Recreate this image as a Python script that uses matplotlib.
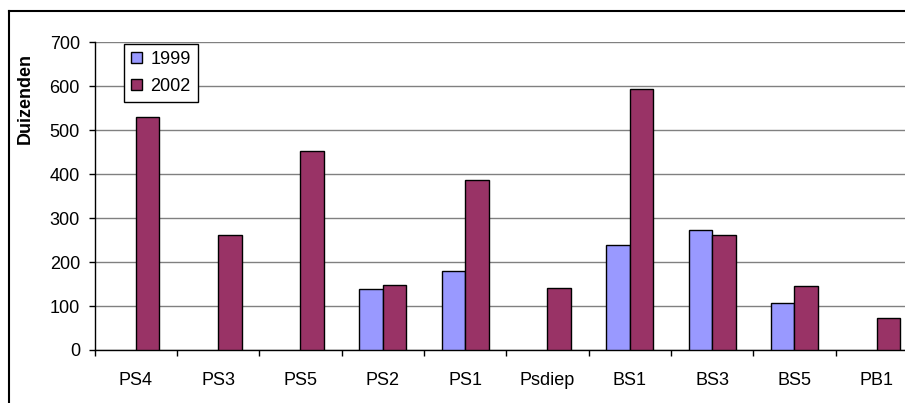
import matplotlib
matplotlib.use("Agg")
import matplotlib.pyplot as plt
import numpy as np
from matplotlib.lines import Line2D

categories = ["PS4", "PS3", "PS5", "PS2", "PS1", "Psdiep", "BS1", "BS3", "BS5", "PB1"]
values_1999 = [None, None, None, 138, 180, None, 238, 274, 106, None]
values_2002 = [531, 261, 452, 148, 387, 141, 593, 261, 145, 72]
series_labels = ["1999", "2002"]
y_ticks = [0, 100, 200, 300, 400, 500, 600, 700]

plt.rcParams['font.family'] = ['Liberation Sans', 'DejaVu Sans']

W, H = 905, 403
fig = plt.figure(figsize=(W / 100, H / 100), dpi=100)
fig.patch.set_facecolor("white")

left = 94.5 / W
right = 918 / W
bottom = (H - 350) / H
top = (H - 42.3) / H
ax = fig.add_axes([left, bottom, right - left, top - bottom])

x = np.arange(len(categories))
w = 1 / 3.5
v99 = np.array([np.nan if v is None else v for v in values_1999], dtype=float)
v02 = np.array([np.nan if v is None else v for v in values_2002], dtype=float)
ax.bar(x - w / 2, v99, width=w, color="#9999FF", edgecolor="black", linewidth=1.0,
       label=series_labels[0], zorder=3)
ax.bar(x + w / 2, v02, width=w, color="#993366", edgecolor="black", linewidth=1.0,
       label=series_labels[1], zorder=3)

FS = 13
ax.set_xlim(-0.5, len(categories) - 0.5)
ax.set_ylim(0, 700)
ax.set_yticks(y_ticks)
ax.set_yticklabels([str(v) for v in y_ticks], fontsize=FS)
ax.yaxis.grid(True, color="#808080", linewidth=1.0, zorder=0)
ax.set_axisbelow(True)

ax.set_xticks(x)
ax.set_xticklabels(categories, fontsize=FS)
ax.tick_params(axis="x", which="major", length=0, pad=16)
ax.set_xticks(np.arange(len(categories) + 1) - 0.5, minor=True)
ax.tick_params(axis="x", which="minor", length=4.5, width=1, direction="out", color="black")
ax.tick_params(axis="y", length=4.5, width=1, direction="out", pad=6)

for s in ["top", "right"]:
    ax.spines[s].set_visible(False)
for s in ["left", "bottom"]:
    ax.spines[s].set_color("black")
    ax.spines[s].set_linewidth(1.0)

fig.text(25 / W, 1 - 99 / H, "Duizenden", rotation=90, fontsize=FS, fontweight="bold",
         ha="center", va="center")

leg = ax.legend(loc="upper left", bbox_to_anchor=(124 / W, 1 - 44 / H),
                bbox_transform=fig.transFigure, fontsize=FS, frameon=True, fancybox=False,
                handlelength=0.6, handleheight=0.55, handletextpad=0.45,
                labelspacing=0.55, borderpad=0.4, borderaxespad=0)
leg.get_frame().set_edgecolor("black")
leg.get_frame().set_linewidth(1.0)
leg.get_frame().set_alpha(1)
for p in leg.get_patches():
    p.set_linewidth(1.0)

fig.add_artist(Line2D([8.5 / W, 8.5 / W], [0, 1 - 10.5 / H], transform=fig.transFigure,
                      color="black", linewidth=1.5))
fig.add_artist(Line2D([8.5 / W, 1], [1 - 10.5 / H, 1 - 10.5 / H], transform=fig.transFigure,
                      color="black", linewidth=1.5))

fig.savefig("out.png", dpi=100)
